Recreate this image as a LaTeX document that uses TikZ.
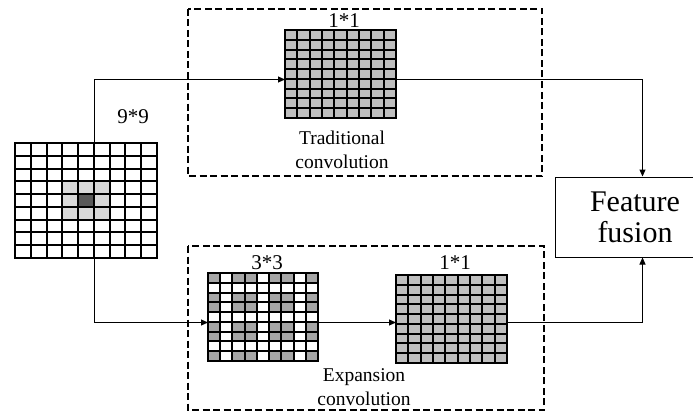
\documentclass[tikz,border=0pt]{standalone}
\usepackage{fontspec}
\setmainfont{Liberation Serif}
\usetikzlibrary{arrows.meta}
\definecolor{cellA}{HTML}{BFBFBF}
\definecolor{cellB}{HTML}{A6A6A6}
\definecolor{cellL}{HTML}{D9D9D9}
\definecolor{cellD}{HTML}{595959}
\newcommand\gridlines[4]{%
  \foreach \k in {0,...,9}{%
    \pgfmathsetmacro\gxk{round(#1+\k*(#3-#1)/9)}%
    \pgfmathsetmacro\gyk{round(#2+\k*(#4-#2)/9)}%
    \draw[gridline] (\gxk,#2) -- (\gxk,#4);
    \draw[gridline] (#1,\gyk) -- (#3,\gyk);
  }}
\begin{document}
\begin{tikzpicture}[x=1pt,y=-1pt,
  gridline/.style={line width=1.8pt,black,line cap=rect},
  gridnode/.style={inner sep=0pt,outer sep=0pt,draw=none},
  dbox/.style={line width=2pt,dash pattern=on 7pt off 3.5pt},
  arr/.style={line width=1pt,-{Triangle[length=7pt,width=6pt]}},
  lab/.style={inner sep=0pt,font=\fontsize{21}{25}\selectfont},
  conv/.style={inner sep=0pt,align=center,font=\fontsize{19.5}{24.5}\selectfont},
  fusbox/.style={draw,line width=1pt,inner sep=0pt,minimum width=160pt,minimum height=80pt,align=center,font=\fontsize{30}{31}\selectfont}]
\clip (0,0) rectangle (693,412);
\useasboundingbox (0,0) rectangle (693,412);
\fill[white] (0,0) rectangle (693,412);

% dashed boxes
\draw[dbox] (188,9) rectangle (542,176);
\draw[dbox] (188,246) rectangle (544,410);

% grid nodes
\node[gridnode,minimum width=142pt,minimum height=115pt] (g9) at (86,200.5) {};
\node[gridnode,minimum width=111pt,minimum height=88pt] (gt) at (340.5,74) {};
\node[gridnode,minimum width=110pt,minimum height=88pt] (g3) at (263,317) {};
\node[gridnode,minimum width=111pt,minimum height=88pt] (gb) at (451.5,319) {};

% left 9*9 grid
\fill[cellL] ({round(15+3*142/9)},{round(143+3*115/9)}) rectangle ({round(15+6*142/9)},{round(143+6*115/9)});
\fill[cellD] ({round(15+4*142/9)},{round(143+4*115/9)}) rectangle ({round(15+5*142/9)},{round(143+5*115/9)});
\gridlines{15}{143}{157}{258}

% top 1*1 grid
\fill[cellA] (285,30) rectangle (396,118);
\gridlines{285}{30}{396}{118}

% bottom 3*3 dilated grid
\foreach \i in {0,2,3,5,6,8}{\foreach \j in {0,2,3,5,6,8}{%
  \fill[cellB] ({round(208+\i*110/9)},{round(273+\j*88/9)}) rectangle ({round(208+(\i+1)*110/9)},{round(273+(\j+1)*88/9)});}}
\gridlines{208}{273}{318}{361}

% bottom 1*1 grid
\fill[cellA] (396,275) rectangle (507,363);
\gridlines{396}{275}{507}{363}

% fusion box
\node[fusbox] (fus) at (635,217) {Feature\\fusion};

% labels
\node[lab,anchor=base] (l99) at (133,123) {9*9};
\node[lab,anchor=base] (l11t) at (344,28) {1*1};
\node[lab,anchor=base] (l33) at (267,269) {3*3};
\node[lab,anchor=base] (l11b) at (455,269) {1*1};
\node[conv] (tc) at (342,150) {Traditional\\convolution};
\node[conv] (ec) at (364,387) {Expansion\\convolution};

% connectors
\coordinate (a1) at (94.5,79.5);
\coordinate (a2) at (642.5,79.5);
\coordinate (b1) at (94.5,322.5);
\coordinate (b2) at (642.5,322.5);
\draw[arr] (g9.north -| a1) -- (a1) -- (gt.west |- a1);
\draw[arr] (gt.east |- a1) -- (a2) -- (fus.north -| a2);
\draw[arr] (g9.south -| b1) -- (b1) -- (g3.west |- b1);
\draw[arr] (g3.east |- b1) -- (gb.west |- b1);
\draw[arr] (gb.east |- b1) -- (b2) -- (fus.south -| b2);
\end{tikzpicture}
\end{document}
